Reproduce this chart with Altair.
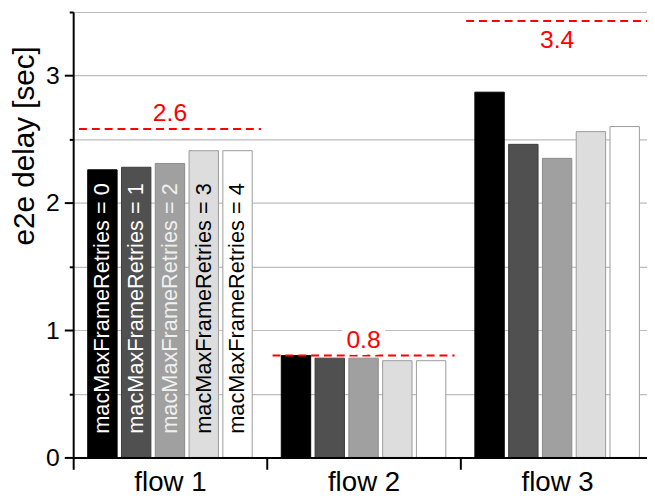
import altair as alt
import pandas as pd

flows = ["flow 1", "flow 2", "flow 3"]
retries = ["0", "1", "2", "3", "4"]
delay_flow1 = [2.26, 2.28, 2.31, 2.41, 2.41]
delay_flow2 = [0.80, 0.78, 0.78, 0.76, 0.76]
delay_flow3 = [2.87, 2.46, 2.35, 2.56, 2.60]
limit_values = [2.58, 0.80, 3.43]
limit_labels = ["2.6", "0.8", "3.4"]
limit_label_side = ["above", "above", "below"]
bar_fills = ["#000000", "#505050", "#a0a0a0", "#dddddd", "#ffffff"]
bar_strokes = ["#000000", "#3c3c3c", "#8a8a8a", "#9a9a9a", "#9a9a9a"]
label_colors = ["#ffffff", "#ffffff", "#f0f0f0", "#000000", "#000000"]
y_ticks = [0, 0.5, 1, 1.5, 2, 2.5, 3, 3.5]

rows = []
for f, vals in zip(flows, [delay_flow1, delay_flow2, delay_flow3]):
    for r, v, tc in zip(retries, vals, label_colors):
        rows.append({"flow": f, "retries": r, "delay": v,
                     "label": f"macMaxFrameRetries = {r}", "tcolor": tc})
bars_df = pd.DataFrame(rows)
limits_df = pd.DataFrame({"flow": flows, "limit": limit_values,
                          "text": limit_labels, "side": limit_label_side})

FONT = "Liberation Sans"
RED = "#ff0000"

x_scale = alt.Scale(domain=flows, range=[0, 588], paddingInner=0, paddingOuter=0)
xo_scale = alt.Scale(domain=retries, paddingInner=0.13, paddingOuter=0.43)
y_scale = alt.Scale(domain=[0, 3.5], nice=False, zero=True)

x_axis = alt.Axis(title=None, labelAngle=0, labelFont=FONT, labelFontSize=28,
                  labelColor="black", labelPadding=0, domainColor="black",
                  domainWidth=2, tickColor="black", tickWidth=2, tickSize=12,
                  tickBand="extent", grid=False, zindex=1)
y_axis = alt.Axis(title="e2e delay [sec]", titleFont=FONT, titleFontSize=30,
                  titleFontWeight="normal", titleColor="black",
                  titleX=-34, titleY=135, titleAngle=270, titleAlign="center",
                  titleBaseline="bottom",
                  values=y_ticks,
                  labelExpr="datum.value % 1 == 0 ? format(datum.value, 'd') : ''",
                  labelFont=FONT, labelFontSize=25, labelColor="black", labelPadding=5,
                  domainColor="black", domainWidth=2, tickColor="black", tickWidth=2,
                  tickSize={"condition": {"test": "datum.value % 1 == 0", "value": 9}, "value": 4},
                  gridColor="#bdbdbd", gridWidth=1.2)

base = alt.Chart(bars_df)

bars = base.mark_bar(strokeWidth=1).encode(
    x=alt.X("flow:N", scale=x_scale, sort=flows, axis=x_axis),
    xOffset=alt.XOffset("retries:N", scale=xo_scale, sort=retries),
    y=alt.Y("delay:Q", scale=y_scale, axis=y_axis),
    fill=alt.Fill("retries:N", scale=alt.Scale(domain=retries, range=bar_fills), legend=None),
    stroke=alt.Stroke("retries:N", scale=alt.Scale(domain=retries, range=bar_strokes), legend=None),
)

bar_text = base.transform_filter(alt.datum.flow == "flow 1").mark_text(
    angle=270, align="left", baseline="middle", dx=24, fontSize=22, font=FONT
).encode(
    x=alt.X("flow:N", scale=x_scale, sort=flows),
    xOffset=alt.XOffset("retries:N", scale=xo_scale, sort=retries),
    y=alt.datum(0),
    text="label:N",
    color=alt.Color("tcolor:N", scale=None),
)

lim = alt.Chart(limits_df)
rules = lim.mark_rule(color=RED, strokeWidth=2, strokeDash=[8, 5]).encode(
    x=alt.X("flow:N", scale=x_scale, sort=flows, bandPosition=0.03),
    x2=alt.X2("flow:N", bandPosition=0.97),
    y=alt.Y("limit:Q", scale=y_scale),
)

def label_layer(side, dy, halo):
    kw = dict(fontSize=25, font=FONT, align="center", baseline="alphabetic", dy=dy)
    if halo:
        kw.update(fill="white", stroke="white", strokeWidth=14, strokeJoin="round")
    else:
        kw.update(color=RED)
    return lim.transform_filter(alt.datum.side == side).mark_text(**kw).encode(
        x=alt.X("flow:N", scale=x_scale, sort=flows),
        y=alt.Y("limit:Q", scale=y_scale),
        text="text:N",
    )

chart = alt.layer(
    bars, bar_text, rules,
    label_layer("above", -8, True), label_layer("below", 27, True),
    label_layer("above", -8, False), label_layer("below", 27, False),
).properties(
    width=581, height=451,
    padding={"left": 66, "top": 1, "right": 0, "bottom": 35},
    autosize=alt.AutoSizeParams(type="none"),
    background="white",
).configure_view(stroke=None)

chart.save("out.html", embed_options={"renderer": "svg", "actions": False})
